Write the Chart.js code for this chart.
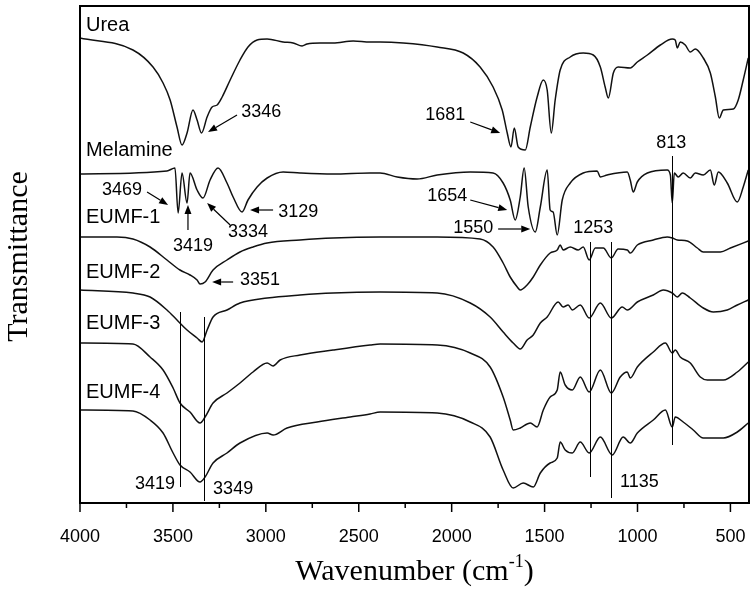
<!DOCTYPE html>
<html>
<head>
<meta charset="utf-8">
<script src="https://cdn.jsdelivr.net/npm/chart.js@4.4.0/dist/chart.umd.min.js"></script>
<style>
html,body{margin:0;padding:0;background:#fff;}
canvas{display:block;}
</style>
</head>
<body>
<canvas id="c" width="756" height="596"></canvas>
<script>
// ---------- data (wavenumber, cm-1) / transmittance (offset, a.u.) ----------
const xTickValues = [4000,3500,3000,2500,2000,1500,1000,500];
const xMinorTicks = [3750,3250,2750,2250,1750,1250,750];

const ureaWn = [4000,3715,3607,3553,3515,3478,3451,3424,3392,3370,3346,3316,3289,3262,3235,3192,3139,3096,3047,2993,2907,2853,2805,2778,2708,2638,2530,2439,2385,2261,2078,1938,1847,1777,1728,1701,1681,1663,1642,1604,1577,1540,1507,1486,1464,1443,1416,1362,1292,1238,1200,1174,1157,1130,1104,1039,1001,947,877,813,797,786,770,743,716,689,646,608,581,560,538,484,458,431,404];
const ureaT  = [465,453,436,420,403,376,358,370,393,383,370,386,396,398,406,423,443,456,463,464,461,460,457,459,460,460,462,461,461,460,456,450,436,416,393,370,356,375,356,353,376,406,423,413,370,403,433,446,450,448,436,416,405,430,436,435,441,448,458,464,463,455,461,458,451,454,445,430,406,385,393,394,403,423,445];

const melWn = [4000,3532,3489,3472,3451,3424,3408,3370,3338,3300,3257,3209,3176,3128,3096,3047,2993,2907,2816,2638,2439,2385,2293,2186,2078,1900,1777,1723,1685,1658,1631,1610,1588,1550,1523,1486,1470,1454,1432,1405,1362,1292,1217,1200,1163,1055,1039,1023,1001,947,840,823,813,802,781,754,716,689,646,608,587,565,517,463,431,404];
const melT  = [329,332,335,290,330,300,330,313,305,323,335,320,306,291,303,316,325,331,330,329,330,330,326,324,328,331,330,320,303,283,306,335,296,271,296,333,293,291,268,303,320,330,332,326,328,331,323,311,321,330,333,328,300,330,326,330,325,330,328,333,318,331,320,301,316,333];

const e1Wn = [4000,3801,3715,3623,3532,3462,3408,3370,3354,3327,3284,3209,3139,3069,2993,2816,2638,2385,2078,1847,1777,1723,1685,1647,1631,1594,1561,1523,1470,1432,1416,1400,1362,1319,1292,1260,1227,1184,1141,1104,1055,1039,1001,915,840,813,786,732,678,646,554,500,404];
const e1T  = [266,266,264,256,243,233,228,223,219,221,233,243,251,256,260,263,265,266,266,264,256,240,226,216,213,218,226,238,250,253,258,253,256,253,256,243,255,255,245,254,253,250,258,263,266,265,263,262,255,251,251,255,262];

const e2Wn = [4000,3715,3623,3532,3478,3424,3370,3343,3316,3284,3209,3139,2993,2816,2638,2385,2078,1900,1793,1723,1669,1631,1594,1561,1523,1486,1427,1400,1373,1351,1308,1260,1200,1141,1082,1055,1001,915,861,813,786,759,716,646,592,517,463,404];
const e2T  = [213,210,206,193,183,173,165,161,173,186,193,200,205,208,210,211,210,200,186,171,160,154,163,168,180,186,201,196,198,193,198,185,200,185,196,193,201,208,213,210,206,210,205,195,191,193,198,203];

const e3Wn = [4000,3715,3623,3553,3499,3462,3408,3354,3327,3284,3209,3139,3069,2993,2961,2923,2816,2638,2439,2385,2078,1900,1793,1723,1685,1669,1631,1577,1540,1507,1470,1432,1416,1389,1351,1308,1260,1200,1141,1093,1055,1039,1001,915,850,813,797,770,716,662,624,538,463,404];
const e3T  = [160,159,146,133,115,100,91,80,86,100,110,120,131,140,137,143,148,153,158,159,158,150,136,106,83,73,75,80,76,93,106,113,131,118,113,126,111,133,110,126,131,125,136,151,160,150,153,146,140,126,123,123,131,141];

const e4Wn = [4000,3715,3623,3553,3499,3462,3408,3354,3327,3284,3209,3139,2993,2961,2886,2724,2546,2439,2385,2078,1900,1793,1723,1669,1615,1561,1523,1470,1432,1416,1389,1351,1308,1260,1200,1136,1077,1039,1001,915,850,813,797,754,700,646,538,463,404];
const e4T  = [93,92,83,70,50,38,31,21,26,40,50,60,70,68,75,81,86,89,91,90,81,66,33,15,20,16,30,40,45,61,53,50,61,50,66,48,66,60,70,83,93,76,86,81,73,65,65,71,80];

// ---------- annotations (data coordinates) ----------
const sampleNames  = ['Urea','Melamine','EUMF-1','EUMF-2','EUMF-3','EUMF-4'];
const sampleLabelX = 3968;
const sampleLabelY = [478,353,286,231,180,111];

const peakLabels = ['3346','1681','813','3469','3419','3334','3129','3351','1654','1550','1253','1135','3419','3349'];
const peakLabelX = [3025,2035,818,3774,3392,3096,2826,3031,2024,1884,1238,990,3596,3176];
const peakLabelY = [391,388,360,313,257,271,291,223,307,275,275,21,19,14];

// arrows: [fromWn, fromT, toWn, toT]
const arrowFromX = [3155,1900,3639,3419,3192,2961,3176,1900,1750];
const arrowFromY = [388,381,311,273,278,293,221,303,274];
const arrowToX   = [3311,1739,3526,3419,3316,3085,3289,1701,1577];
const arrowToY   = [371,370,298,298,300,293,221,293,274];

// vertical marker lines
const markerWn     = [814,1258,1141,3460,3334];
const markerTop    = [347,261,261,191,186];
const markerBottom = [58,26,5,16,2];

const series = [[ureaWn,ureaT],[melWn,melT],[e1Wn,e1T],[e2Wn,e2T],[e3Wn,e3T],[e4Wn,e4T]];

const datasets = series.map((s,i)=>({
  label: sampleNames[i],
  data: s[0].map((w,j)=>({x:w,y:s[1][j]})),
  borderColor:'#111',
  borderWidth:1.5,
  pointRadius:0,
  fill:false,
  cubicInterpolationMode:'monotone'
}));

const SANS = '"Liberation Sans", Arial, sans-serif';
const SERIF = '"Liberation Serif", "Times New Roman", serif';

const overlay = {
  id:'overlay',
  afterDatasetsDraw(chart){
    const {ctx, chartArea:a, scales:{x,y}} = chart;
    ctx.save();
    ctx.strokeStyle='#000';
    ctx.fillStyle='#000';
    // frame
    ctx.lineWidth=2;
    ctx.strokeRect(a.left,a.top,a.right-a.left,a.bottom-a.top);
    // ticks
    ctx.lineWidth=1.5;
    xTickValues.forEach(v=>{
      const px=x.getPixelForValue(v);
      ctx.beginPath();ctx.moveTo(px,a.bottom);ctx.lineTo(px,a.bottom+9);ctx.stroke();
    });
    xMinorTicks.forEach(v=>{
      const px=x.getPixelForValue(v);
      ctx.beginPath();ctx.moveTo(px,a.bottom);ctx.lineTo(px,a.bottom+5);ctx.stroke();
    });
    // marker lines
    ctx.lineWidth=1;
    markerWn.forEach((w,i)=>{
      const px=Math.round(x.getPixelForValue(w))+0.5;
      ctx.beginPath();
      ctx.moveTo(px,y.getPixelForValue(markerTop[i]));
      ctx.lineTo(px,y.getPixelForValue(markerBottom[i]));
      ctx.stroke();
    });
    // arrows
    arrowFromX.forEach((w,i)=>{
      const x0=x.getPixelForValue(w), y0=y.getPixelForValue(arrowFromY[i]);
      const x1=x.getPixelForValue(arrowToX[i]), y1=y.getPixelForValue(arrowToY[i]);
      const ang=Math.atan2(y1-y0,x1-x0);
      const L=9, W=3.5;
      const bx=x1-L*Math.cos(ang), by=y1-L*Math.sin(ang);
      ctx.lineWidth=1.2;
      ctx.beginPath();ctx.moveTo(x0,y0);ctx.lineTo(bx,by);ctx.stroke();
      ctx.beginPath();
      ctx.moveTo(x1,y1);
      ctx.lineTo(bx+W*Math.sin(ang),by-W*Math.cos(ang));
      ctx.lineTo(bx-W*Math.sin(ang),by+W*Math.cos(ang));
      ctx.closePath();ctx.fill();
    });
    // sample names
    ctx.font='20px '+SANS;
    ctx.textAlign='left';ctx.textBaseline='middle';
    sampleNames.forEach((n,i)=>{
      ctx.fillText(n,x.getPixelForValue(sampleLabelX),y.getPixelForValue(sampleLabelY[i]));
    });
    // peak labels
    ctx.font='18px '+SANS;
    ctx.textAlign='center';
    peakLabels.forEach((t,i)=>{
      ctx.fillText(t,x.getPixelForValue(peakLabelX[i]),y.getPixelForValue(peakLabelY[i]));
    });
    // y title
    ctx.save();
    ctx.translate(27,(a.top+a.bottom)/2+2);
    ctx.rotate(-Math.PI/2);
    ctx.font='30px '+SERIF;
    ctx.textAlign='center';ctx.textBaseline='alphabetic';
    ctx.fillText('Transmittance',0,0);
    ctx.restore();
    // x title with superscript
    const main='Wavenumber (cm', sup='-1', end=')';
    ctx.textAlign='left';ctx.textBaseline='alphabetic';
    ctx.font='30px '+SERIF;
    const w1=ctx.measureText(main).width, w3=ctx.measureText(end).width;
    ctx.font='18px '+SERIF;
    const w2=ctx.measureText(sup).width;
    const total=w1+w2+w3;
    const cx=(a.left+a.right)/2, base=580;
    let sx=cx-total/2;
    ctx.font='30px '+SERIF;
    ctx.fillText(main,sx,base);
    ctx.font='18px '+SERIF;
    ctx.fillText(sup,sx+w1,base-13);
    ctx.font='30px '+SERIF;
    ctx.fillText(end,sx+w1+w2,base);
    ctx.restore();
  }
};

new Chart(document.getElementById('c'),{
  type:'line',
  data:{datasets},
  options:{
    responsive:false,
    animation:false,
    events:[],
    layout:{padding:{top:6,right:7,left:0,bottom:0}},
    plugins:{legend:{display:false},tooltip:{enabled:false}},
    scales:{
      x:{
        type:'linear',reverse:true,min:400,max:4000,
        afterBuildTicks:s=>{s.ticks=xTickValues.map(v=>({value:v}));},
        ticks:{autoSkip:false,maxRotation:0,padding:13,color:'#000',
          font:{family:SANS,size:18,lineHeight:2.31},callback:v=>String(v)},
        grid:{display:false,drawTicks:false},
        border:{display:false},
        afterFit:s=>{s.height=93;s.paddingRight=0;s.paddingLeft=0;}
      },
      y:{
        min:0,max:497,
        ticks:{display:false},
        grid:{display:false,drawTicks:false},
        border:{display:false},
        afterFit:s=>{s.width=80;}
      }
    }
  },
  plugins:[overlay]
});
</script>
</body>
</html>
